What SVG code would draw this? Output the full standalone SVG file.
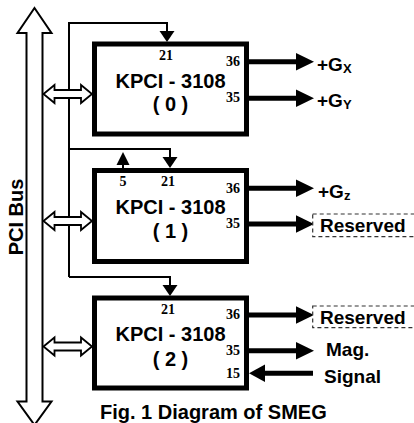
<svg xmlns="http://www.w3.org/2000/svg" width="414" height="423" viewBox="0 0 414 423">
<style>
.box{fill:#fff;stroke:#000;stroke-width:5}
.ln{fill:none;stroke:#000;stroke-width:2}
.out{fill:none;stroke:#000;stroke-width:5}
.hd{fill:#000;stroke:none}
.dbl{fill:#fff;stroke:#000;stroke-width:1.8;stroke-linejoin:miter}
.bus{fill:#fff;stroke:#000;stroke-width:2}
.t{font-family:"Liberation Sans",Arial,sans-serif;font-weight:bold;fill:#000}
.big{font-size:20px;text-anchor:middle}
.lab{font-size:19px}
.pin{font-family:"Liberation Serif","Times New Roman",serif;font-weight:bold;font-size:14px;fill:#000}
.dash{fill:#fff;stroke:#333;stroke-width:1.2;stroke-dasharray:4 3}
</style>
<rect width="414" height="423" fill="#fff"/>
<g id="pci-bus">
<polygon class="bus" points="34.5,8 51.5,33 42.5,33 42.5,401.5 51.5,401.5 34.5,425 17.5,401.5 26.5,401.5 26.5,33 17.5,33"/>
<text class="t" font-size="20" text-anchor="middle" transform="translate(23,217) rotate(-90)">PCI Bus</text>
</g>
<g id="connectors">
<polyline class="ln" points="69,277 69,23 167,23 167,33"/>
<polygon class="hd" points="159.5,31 174.5,31 167,42"/>
<polyline class="ln" points="69,149 170,149 170,158"/>
<polygon class="hd" points="162.5,157 177.5,157 170,168"/>
<polyline class="ln" points="69,277 170,277 170,286"/>
<polygon class="hd" points="162.5,285 177.5,285 170,296"/>
<line class="ln" x1="123" y1="168" x2="123" y2="162"/>
<polygon class="hd" points="116.5,165 129.5,165 123,152"/>
<polygon class="dbl" points="43.5,94 54.5,85 54.5,90 81,90 81,85 92,94 81,103 81,98 54.5,98 54.5,103"/>
<polygon class="dbl" points="43.5,221 54.5,212 54.5,217 81,217 81,212 92,221 81,230 81,225 54.5,225 54.5,230"/>
<polygon class="dbl" points="43.5,346.5 54.5,337.5 54.5,342.5 81,342.5 81,337.5 92,346.5 81,355.5 81,350.5 54.5,350.5 54.5,355.5"/>
<line class="out" x1="246" y1="61.7" x2="298" y2="61.7"/>
<polygon class="hd" points="296,53 314,61.7 296,70.4"/>
<line class="out" x1="246" y1="98.3" x2="298" y2="98.3"/>
<polygon class="hd" points="296,89.6 314,98.3 296,107"/>
<line class="out" x1="246" y1="188.3" x2="298" y2="188.3"/>
<polygon class="hd" points="296,179.6 314,188.3 296,197"/>
<line class="out" x1="246" y1="224" x2="298" y2="224"/>
<polygon class="hd" points="296,215.3 314,224 296,232.7"/>
<line class="out" x1="246" y1="315" x2="298" y2="315"/>
<polygon class="hd" points="296,306.3 314,315 296,323.7"/>
<line class="out" x1="246" y1="350.7" x2="298" y2="350.7"/>
<polygon class="hd" points="296,342 314,350.7 296,359.4"/>
<line class="out" x1="263" y1="373.3" x2="313" y2="373.3"/>
<polygon class="hd" points="265,364.6 249,373.3 265,382"/>
</g>
<g id="kpci-0">
<rect class="box" x="94.5" y="44" width="152" height="90"/>
<text class="pin" x="166" y="59.5" text-anchor="middle">21</text>
<text class="pin" x="240" y="66" text-anchor="end">36</text>
<text class="pin" x="240" y="102" text-anchor="end">35</text>
<text class="t big" x="170.5" y="87.5">KPCI - 3108</text>
<text class="t big" x="170.5" y="111">( 0 )</text>
</g>
<g id="kpci-1">
<rect class="box" x="94.5" y="170.5" width="152" height="91"/>
<text class="pin" x="123" y="186" text-anchor="middle">5</text>
<text class="pin" x="168" y="186" text-anchor="middle">21</text>
<text class="pin" x="240" y="192.5" text-anchor="end">36</text>
<text class="pin" x="240" y="227.5" text-anchor="end">35</text>
<text class="t big" x="170.5" y="214">KPCI - 3108</text>
<text class="t big" x="170.5" y="237.5">( 1 )</text>
</g>
<g id="kpci-2">
<rect class="box" x="94.5" y="298" width="152" height="90"/>
<text class="pin" x="168" y="313.5" text-anchor="middle">21</text>
<text class="pin" x="240" y="319" text-anchor="end">36</text>
<text class="pin" x="240" y="354.5" text-anchor="end">35</text>
<text class="pin" x="240" y="377.5" text-anchor="end">15</text>
<text class="t big" x="170.5" y="341">KPCI - 3108</text>
<text class="t big" x="170.5" y="365.5">( 2 )</text>
</g>
<g id="labels">
<text class="t lab" x="317" y="70.7">+G<tspan font-size="13" dy="2">X</tspan></text>
<text class="t lab" x="317" y="106.5">+G<tspan font-size="13" dy="2">Y</tspan></text>
<text class="t lab" x="318" y="198.3">+G<tspan font-size="13" dy="2">z</tspan></text>
<rect class="dash" x="312.7" y="214" width="102" height="22.7"/>
<text class="t lab" x="320" y="232.3">Reserved</text>
<rect class="dash" x="312.7" y="306" width="102" height="21.7"/>
<text class="t lab" x="320" y="323.8">Reserved</text>
<text class="t lab" x="326" y="356">Mag.</text>
<text class="t lab" x="324" y="382.7">Signal</text>
<text class="t" font-size="20" x="100" y="419">Fig. 1 Diagram of SMEG</text>
</g>
</svg>
